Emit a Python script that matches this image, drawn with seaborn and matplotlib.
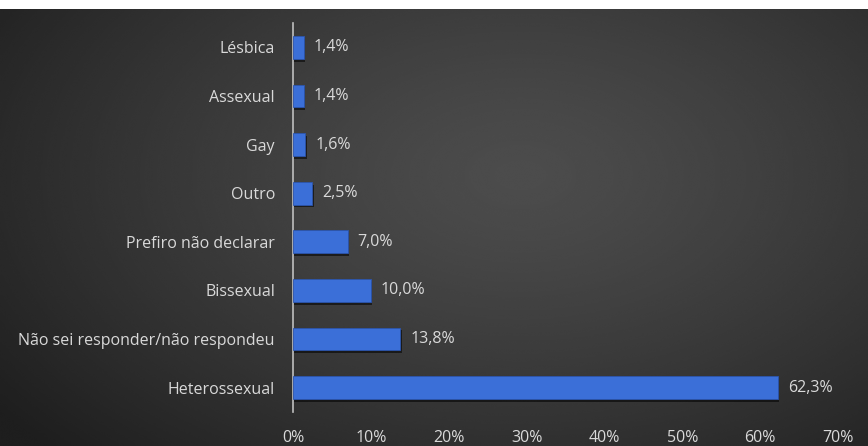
import numpy as np
import pandas as pd
import matplotlib
matplotlib.use("Agg")
import matplotlib.pyplot as plt
import matplotlib.patheffects as pe
import seaborn as sns

categories = ["Lésbica", "Assexual", "Gay", "Outro", "Prefiro não declarar",
              "Bissexual", "Não sei responder/não respondeu", "Heterossexual"]
values = [1.4, 1.4, 1.6, 2.5, 7.0, 10.0, 13.8, 62.3]
xticks = [0, 10, 20, 30, 40, 50, 60, 70]

df = pd.DataFrame({"categoria": categories, "pct": values})

sns.set_theme(style="white")
plt.rcParams["font.family"] = ["Open Sans", "DejaVu Sans"]

W, H, DPI = 868, 446, 100
fig = plt.figure(figsize=(W / DPI, H / DPI), dpi=DPI)
fig.patch.set_facecolor("white")

# dark radial-gradient backdrop below a thin white strip
top_px = 9
bg = fig.add_axes([0, 0, 1, 1 - top_px / H], zorder=0)
yy, xx = np.mgrid[0:1:300j, 0:1:600j]
r = np.sqrt(((xx - 0.6) / 0.75) ** 2 + ((yy - 0.62) / 0.9) ** 2)
r = np.clip(r, 0, 1)
light, dark = 0.30, 0.12
img = light - (light - dark) * r ** 1.3
bg.imshow(img, cmap="gray", vmin=0, vmax=1, aspect="auto", origin="lower",
          extent=[0, 1, 0, 1], interpolation="bicubic")
bg.set_axis_off()

left, right = 293 / W, 838 / W
bottom, top = 1 - 412 / H, 1 - 23 / H
ax = fig.add_axes([left, bottom, right - left, top - bottom], zorder=1)
ax.set_facecolor("none")

sns.barplot(data=df, y="categoria", x="pct", orient="h", color="#3b6fd8",
            width=0.47, saturation=1, ax=ax, zorder=3)

for p in ax.patches:
    p.set_edgecolor("#2c55ad")
    p.set_linewidth(0.6)
    p.set_path_effects([pe.SimplePatchShadow(offset=(1.0, -2.0), shadow_rgbFace="black", alpha=0.55),
                        pe.Normal()])

txt_color = "#d9d9d9"
for i, v in enumerate(values):
    ax.text(v + 1.25, i, f"{v:.1f}%".replace(".", ","), va="center", ha="left",
            color=txt_color, fontsize=11.5)

ax.set_xlim(0, 70)
ax.set_ylim(7.5, -0.5)
ax.set_xticks(xticks)
ax.set_xticklabels([f"{t}%" for t in xticks])
ax.tick_params(axis="x", colors=txt_color, labelsize=11.5, length=0, pad=13)
ax.tick_params(axis="y", colors=txt_color, labelsize=11.5, length=0, pad=13)
for lbl in ax.get_xticklabels() + ax.get_yticklabels():
    lbl.set_color(txt_color)
ax.set_xlabel("")
ax.set_ylabel("")
for s in ["top", "right", "bottom"]:
    ax.spines[s].set_visible(False)
ax.spines["left"].set_color("#bfbfbf")
ax.spines["left"].set_linewidth(1.2)
ax.grid(False)

fig.savefig("out.png", dpi=DPI)
